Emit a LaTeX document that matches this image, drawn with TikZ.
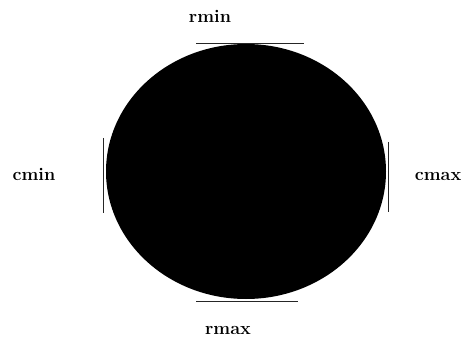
\documentclass[tikz,border=0pt]{standalone}
\usetikzlibrary{shapes.geometric}
\tikzset{
  blob/.style={ellipse,fill=black,draw=none,inner sep=0pt},
  bound/.style={line width=0.9pt,draw=black!85},
  lbl/.style={font=\fontsize{18}{20}\selectfont\bfseries,inner sep=0pt,anchor=base}
}
\begin{document}
\begin{tikzpicture}[x=1pt,y=-1pt]
  \useasboundingbox (0,0) rectangle (464,345);
  \node[blob,minimum width=280pt,minimum height=255pt] (disc) at (246,171.5) {};
  % bounding marks
  \draw[bound] (196,43) -- (304,43);
  \draw[bound] (196,301) -- (298,301);
  \draw[bound] (103,138) -- (103,213);
  \draw[bound] (388,142) -- (388,212);
  % labels
  \node[lbl] (rmin) at (210,23) {rmin};
  \node[lbl] (rmax) at (228,334) {rmax};
  \node[lbl] (cmin) at (34,181) {cmin};
  \node[lbl] (cmax) at (438,181) {cmax};
\end{tikzpicture}
\end{document}
